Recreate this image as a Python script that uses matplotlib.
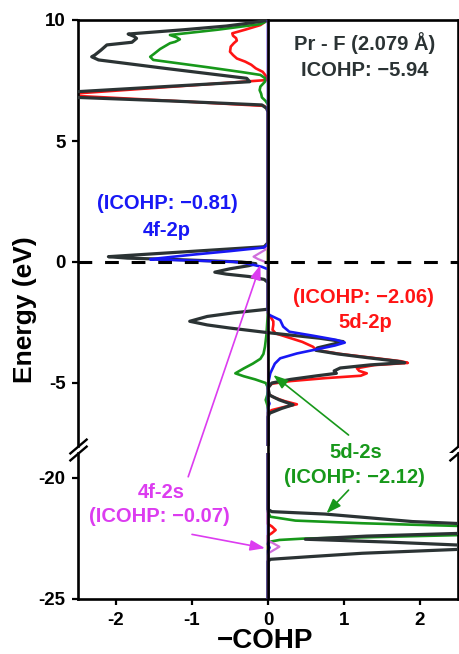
import matplotlib
matplotlib.use("Agg")
import matplotlib.pyplot as plt
from matplotlib.patches import ConnectionPatch

plt.rcParams['font.family'] = ['Liberation Sans', 'DejaVu Sans']
plt.rcParams['font.weight'] = 'bold'
plt.rcParams['axes.unicode_minus'] = False

# ---------------- data (energy in eV, value = -COHP) ----------------
total_E = [10.0, 9.95, 9.85, 9.75, 9.6, 9.42, 9.32, 9.24, 9.08, 8.97, 8.75, 8.55, 8.48, 8.35,
           8.0, 7.59, 7.45, 7.25, 7.04, 6.92, 6.80, 6.65, 6.49, 6.35, 6.2,
           0.8, 0.63, 0.5, 0.35, 0.22, 0.16, 0.1, 0.0, -0.07, -0.15, -0.28, -0.42, -0.5, -0.6,
           -0.72, -0.85,
           -1.95, -2.1, -2.25, -2.45, -2.6, -2.73, -2.92, -3.15, -3.29, -3.4, -3.55, -3.65,
           -3.8, -3.95, -4.1, -4.16, -4.25, -4.38, -4.5, -4.6, -4.7, -4.85, -5.0, -5.2,
           -5.5, -5.7, -5.9, -6.05, -6.25, -6.4,
           -21.3, -21.39, -21.49, -21.65, -21.8, -21.88, -22.0, -22.1, -22.2, -22.29, -22.4,
           -22.53, -22.65, -22.77, -22.86, -22.95, -23.11, -23.25, -23.36, -23.45, -25.0]
total_v = [0.0, -0.08, -0.3, -0.55, -1.1, -1.84, -1.76, -1.73, -1.79, -2.12, -2.2, -2.28, -2.32, -2.23,
           -1.35, -0.28, -0.24, -1.35, -2.5, -3.3, -2.5, -1.25, -0.08, -0.02, 0.0,
           0.0, -0.05, -0.7, -1.45, -2.1, -1.85, -1.2, -0.35, -0.16, -0.25, -0.5, -0.7, -0.55, -0.25,
           -0.05, 0.0,
           0.0, -0.45, -0.8, -1.03, -0.8, -0.5, 0.0, 0.68, 0.99, 0.85, 0.65, 0.63,
           0.92, 1.3, 1.7, 1.8, 1.35, 0.95, 0.87, 0.9, 0.65, 0.3, 0.05, 0.0,
           0.02, 0.15, 0.33, 0.18, 0.02, 0.0,
           0.0, 0.05, 0.75, 1.35, 1.9, 2.5, 3.6, 4.0, 3.6, 2.5, 1.3,
           0.49, 1.6, 2.5, 3.5, 2.5, 1.24, 0.55, 0.03, 0.0, 0.0]

d2p_E = [10.0, 9.9, 9.79, 9.6, 9.45, 9.35, 9.25, 9.15, 9.04, 8.9, 8.69, 8.55, 8.41, 8.28, 8.15,
         8.0, 7.86, 7.7, 7.52, 7.3, 6.97, 6.91, 6.86, 6.65, 6.45, 6.3,
         -2.15, -2.3, -2.45, -2.6, -2.8, -2.95, -3.1, -3.3, -3.5, -3.64, -3.8, -3.95, -4.1, -4.17,
         -4.26, -4.39, -4.5, -4.6, -4.7, -4.8, -4.92, -5.03, -5.2,
         -5.45, -5.6, -5.75, -5.88, -6.0, -6.12, -6.22,
         -21.9, -22.0, -22.15, -22.28, -22.38, -25.0]
d2p_v = [0.0, -0.05, -0.1, -0.3, -0.47, -0.46, -0.42, -0.41, -0.45, -0.49, -0.5, -0.46, -0.41, -0.3, -0.22,
         -0.16, -0.07, -0.03, -0.01, -1.0, -2.5, -3.3, -2.5, -1.2, -0.05, 0.0,
         0.0, 0.04, 0.07, 0.07, 0.06, 0.1, 0.25, 0.45, 0.59, 0.64, 0.95, 1.35, 1.75, 1.84,
         1.4, 1.17, 1.2, 1.3, 1.22, 0.75, 0.3, 0.05, 0.0,
         0.0, 0.08, 0.22, 0.38, 0.2, 0.05, 0.0,
         0.0, 0.05, 0.1, 0.05, 0.0, 0.0]

d2s_E = [10.0, 9.9, 9.83, 9.6, 9.38, 9.28, 9.2, 9.1, 9.04, 8.8, 8.6, 8.48, 8.35, 8.05, 7.85, 7.73,
         7.6, 7.45, 7.25, 7.1, 6.95, 6.8, 6.65, 6.5,
         -2.0, -2.5, -3.0, -3.5, -3.8, -4.0, -4.2, -4.4, -4.6, -4.72, -4.85, -5.0, -5.2,
         -5.5, -5.7, -5.9, -6.1,
         -21.4, -21.6, -21.76, -21.87, -21.93, -21.98, -22.1, -22.2, -22.3, -22.36, -22.45, -22.5,
         -22.56, -22.63, -22.7, -25.0]
d2s_v = [0.0, -0.05, -0.1, -0.66, -1.29, -1.2, -1.16, -1.22, -1.29, -1.42, -1.5, -1.55, -1.51, -0.8, -0.35, -0.1,
         -0.04, -0.04, -0.1, -0.11, -0.09, -0.08, -0.03, 0.0,
         0.0, -0.01, -0.02, -0.04, -0.06, -0.1, -0.2, -0.32, -0.43, -0.32, -0.17, -0.03, 0.0,
         -0.01, -0.03, -0.01, 0.0,
         0.0, 0.03, 0.36, 1.24, 1.9, 2.5, 3.5, 3.7, 3.1, 2.5, 1.3, 0.49,
         0.15, 0.03, 0.0, 0.0]

f2p_E = [10.0, 0.75, 0.6, 0.45, 0.3, 0.15, 0.11, 0.06, 0.01, -0.05, -0.12, -0.2, -0.3,
         -2.1, -2.19, -2.4, -2.67, -2.88, -3.05, -3.22, -3.33, -3.45, -3.57, -3.78, -3.98,
         -4.2, -4.4, -4.6, -4.9, -5.1, -5.7, -5.85, -6.0,
         -22.75, -22.88, -23.0, -25.0]
f2p_v = [0.0, 0.0, -0.05, -0.5, -1.0, -1.45, -1.55, -1.0, -0.46, -0.3, -0.19, -0.08, 0.0,
         0.0, 0.02, 0.16, 0.2, 0.28, 0.6, 0.9, 1.01, 0.88, 0.7, 0.38, 0.16,
         0.09, 0.06, 0.03, 0.01, 0.0, 0.0, 0.02, 0.0,
         0.0, 0.02, 0.0, 0.0]

f2s_E = [10.0, 0.6, 0.5, 0.35, 0.22, 0.12, 0.02, -0.1,
         -22.58, -22.7, -22.84, -22.97, -23.1, -23.2, -25.0]
f2s_v = [0.0, 0.0, -0.04, -0.12, -0.19, -0.13, -0.05, 0.0,
         0.0, 0.07, 0.15, 0.08, 0.01, 0.0, 0.0]

xticks = [-2, -1, 0, 1, 2]
xticklabels = ['-2', '-1', '0', '1', '2']
yticks_top = [10, 5, 0, -5]
yticklabels_top = ['10', '5', '0', '-5']
yticks_bot = [-20, -25]
yticklabels_bot = ['-20', '-25']

DARK = '#2b3334'
RED = '#ff1414'
GREEN = '#17981a'
BLUE = '#1818f5'
PINK = '#d070dc'
MAG = '#dc3cf0'

# ---------------- figure ----------------
W, H = 460, 654
fig = plt.figure(figsize=(W / 100, H / 100), dpi=100)
ax_top = fig.add_axes([78 / W, 1 - 446 / H, 380 / W, 426 / H])
ax_bot = fig.add_axes([78 / W, 1 - 599 / H, 380 / W, 146 / H])

ax_top.set_ylim(10 - 426 / 24.2, 10)
ax_bot.set_ylim(-25, -25 + 146 / 24.2)

series = [(d2p_E, d2p_v, RED, 1.9, 1),
          (d2s_E, d2s_v, GREEN, 1.9, 2),
          (total_E, total_v, DARK, 2.3, 3),
          (f2p_E, f2p_v, BLUE, 1.9, 4),
          (f2s_E, f2s_v, PINK, 1.6, 5)]

for ax in (ax_top, ax_bot):
    ax.set_xlim(-2.5, 2.5)
    for E, v, c, lw, z in series:
        ax.plot(v, E, color=c, lw=lw, zorder=z, solid_joinstyle='round')
    for s in ax.spines.values():
        s.set_linewidth(1.9)
    ax.tick_params(axis='both', direction='out', length=4.5, width=1.6,
                   labelsize=13.5, pad=4.5, right=False, top=False)

ax_top.axvline(0, ymin=-0.02, ymax=1, color='black', lw=1.9, zorder=6, clip_on=False)
ax_bot.axvline(0, color='black', lw=1.9, zorder=6)
ax_top.axhline(0, color='black', lw=2.2, dashes=(4.5, 4.2), zorder=7)

ax_top.spines['bottom'].set_visible(False)
ax_bot.spines['top'].set_visible(False)
ax_top.tick_params(axis='x', bottom=False, labelbottom=False)
ax_top.set_yticks(yticks_top)
ax_top.set_yticklabels(yticklabels_top)
ax_bot.set_yticks(yticks_bot)
ax_bot.set_yticklabels(yticklabels_bot)
ax_bot.set_xticks(xticks)
ax_bot.set_xticklabels(xticklabels)
ax_bot.tick_params(axis='x', pad=5)

# break marks
kw = dict(marker=[(-1, -0.85), (1, 0.85)], markersize=13, linestyle='none',
          color='k', mec='k', mew=1.7, clip_on=False, zorder=10)
ax_top.plot([0, 1], [0, 0], transform=ax_top.transAxes, **kw)
ax_bot.plot([0, 1], [1, 1], transform=ax_bot.transAxes, **kw)

# labels
fig.text(25 / W, 1 - 310 / H, 'Energy (eV)', rotation=90, ha='center', va='center',
         fontsize=19, fontweight='bold')
fig.text(265 / W, 1 - 641 / H, '\u2212COHP', ha='center', va='center',
         fontsize=20, fontweight='bold')

fs = 14.5
ax_top.text(1.27, 9.04, 'Pr - F (2.079 \u00c5)', ha='center', va='center', fontsize=fs, color=DARK)
ax_top.text(1.27, 7.93, 'ICOHP: \u22125.94', ha='center', va='center', fontsize=fs, color=DARK)
ax_top.text(-1.33, 2.40, '(ICOHP: \u22120.81)', ha='center', va='center', fontsize=fs, color=BLUE)
ax_top.text(-1.33, 1.32, '4f-2p', ha='center', va='center', fontsize=fs, color=BLUE)
ax_top.text(1.25, -1.45, '(ICOHP: \u22122.06)', ha='center', va='center', fontsize=fs, color=RED)
ax_top.text(1.28, -2.48, '5d-2p', ha='center', va='center', fontsize=fs, color=RED)
ax_bot.text(1.16, -18.93, '5d-2s', ha='center', va='center', fontsize=fs, color=GREEN, clip_on=False)
ax_bot.text(1.14, -20.0, '(ICOHP: \u22122.12)', ha='center', va='center', fontsize=fs, color=GREEN, clip_on=False)
ax_bot.text(-1.40, -20.58, '4f-2s', ha='center', va='center', fontsize=fs, color=MAG, clip_on=False)
ax_bot.text(-1.43, -21.61, '(ICOHP: \u22120.07)', ha='center', va='center', fontsize=fs, color=MAG, clip_on=False)

# arrows
ast = '-|>,head_length=0.55,head_width=0.2'
arrows = [((-1.05, -19.95), ax_bot, (-0.10, -0.12), ax_top, MAG),
          ((-1.0, -22.33), ax_bot, (-0.04, -22.9), ax_bot, MAG),
          ((1.06, -7.15), ax_top, (0.07, -4.67), ax_top, GREEN),
          ((1.06, -20.5), ax_bot, (0.77, -21.46), ax_bot, GREEN)]
for a, axa, b, axb, c in arrows:
    cp = ConnectionPatch(xyA=a, coordsA=axa.transData, xyB=b, coordsB=axb.transData,
                         arrowstyle=ast, mutation_scale=16, color=c, lw=1.2,
                         shrinkA=0, shrinkB=0, zorder=12)
    fig.add_artist(cp)

fig.savefig('out.png', dpi=100)
